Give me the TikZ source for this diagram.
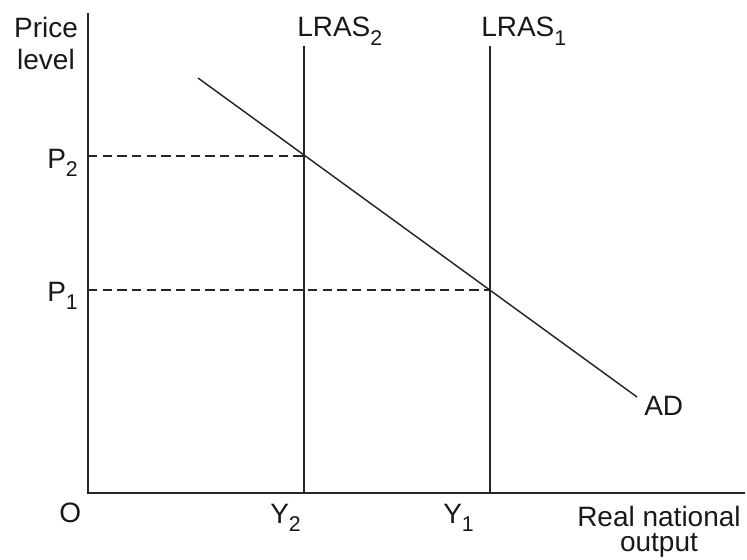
\documentclass[tikz,border=0pt]{standalone}
\usepackage{fontspec}
\setmainfont{Liberation Sans}
\tikzset{
  lbl/.style={inner sep=0pt, font=\fontsize{21}{24}\selectfont, text=black!90},
  axis/.style={line width=1.6pt, draw=black!85},
  curve/.style={line width=1.1pt, draw=black!85},
  guide/.style={line width=0.8pt, draw=black!85, dash pattern=on 7pt off 4pt},
}
\newcommand{\sbx}[1]{\raisebox{-0.3em}{\fontsize{16}{18}\selectfont #1}}
\begin{document}
\begin{tikzpicture}[x=0.75pt,y=-0.75pt]
\useasboundingbox (0,0) rectangle (747,560);
% coordinates
\coordinate (O) at (88,493);
\coordinate (ytop) at (88,13);
\coordinate (xend) at (745,493);
\coordinate (l2top) at (304,46);
\coordinate (l2bot) at (304,493);
\coordinate (l1top) at (490,46);
\coordinate (l1bot) at (490,493);
\coordinate (adA) at (198,78);
\coordinate (adB) at (637,397);
\coordinate (p2) at (88,156);
\coordinate (e2) at (304,156);
\coordinate (p1) at (88,290);
\coordinate (e1) at (490,290);
% axes
\draw[axis] (ytop) -- (O) -- (xend);
% LRAS
\draw[curve] (l2top) -- (l2bot);
\draw[curve] (l1top) -- (l1bot);
% AD
\draw[curve] (adA) -- (adB);
% guides
\draw[guide] (p2) -- (e2);
\draw[guide] (p1) -- (e1);
% labels
\node[lbl, anchor=base] (tPrice) at (46,38) {Price};
\node[lbl, anchor=base] (tLevel) at (46,70) {level};
\node[lbl, anchor=base west] (tL2) at (297,37) {LRAS\sbx{2}};
\node[lbl, anchor=base west] (tL1) at (481,37) {LRAS\sbx{1}};
\node[lbl, anchor=base west] (tP2) at (47,168) {P\sbx{2}};
\node[lbl, anchor=base west] (tP1) at (47,301) {P\sbx{1}};
\node[lbl, anchor=base west] (tAD) at (644,415) {AD};
\node[lbl, anchor=base west] (tO) at (59,522) {O};
\node[lbl, anchor=base west] (tY2) at (270,523) {Y\sbx{2}};
\node[lbl, anchor=base west] (tY1) at (443,523) {Y\sbx{1}};
\node[lbl, anchor=north, align=center, font=\fontsize{21}{19}\selectfont] (tReal) at (659,506) {Real national\\output};
\end{tikzpicture}
\end{document}
